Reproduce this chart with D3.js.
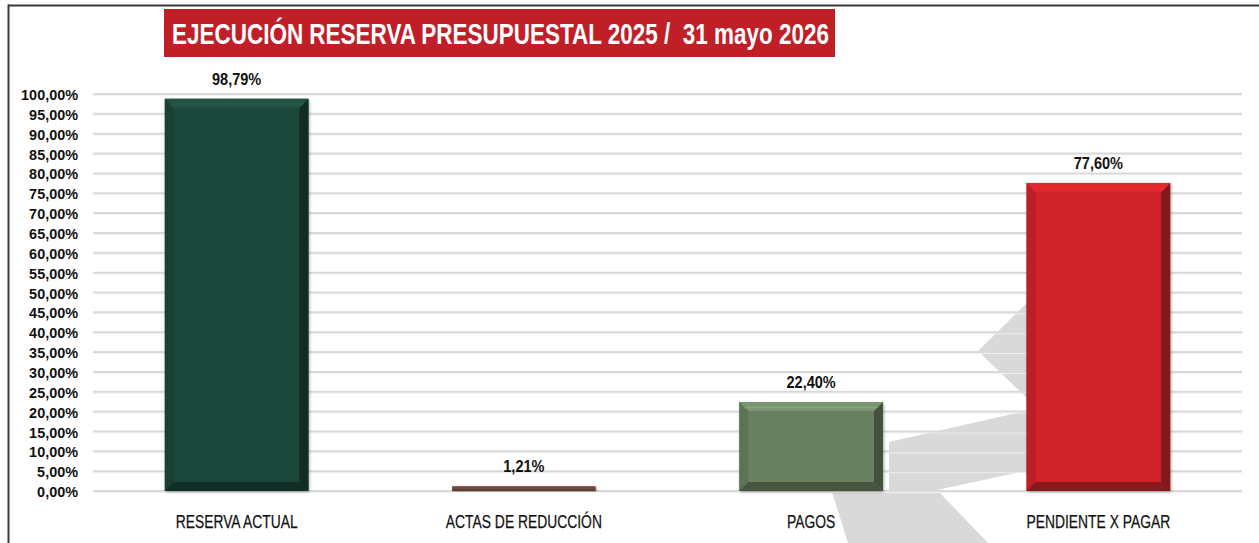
<!DOCTYPE html>
<html><head><meta charset="utf-8">
<script src="https://cdn.jsdelivr.net/npm/d3@7"></script>
<style>
html,body{margin:0;padding:0;background:#fff;}
svg{display:block;}
text{font-family:"Liberation Sans","Arial",sans-serif;fill:#111;}
</style></head>
<body>
<svg id="chart" width="1259" height="543"></svg>
<script>
const categories = ["RESERVA ACTUAL","ACTAS DE REDUCCIÓN","PAGOS","PENDIENTE X PAGAR"];
const values = [98.79, 1.21, 22.40, 77.60];
const valueLabels = ["98,79%","1,21%","22,40%","77,60%"];
const barColors = ["#1d463a","#6e4a3c","#688060","#cf242c"];
const yTicks = d3.range(0, 101, 5);
const titleText = "EJECUCIÓN RESERVA PRESUPUESTAL 2025 /  31 mayo 2026";

const svg = d3.select("#chart");
const W = 1259, H = 543;

const x = d3.scaleBand().domain(categories).range([93, 1242]).paddingInner(0.5).paddingOuter(0.25);
const y = d3.scaleLinear().domain([0, 100]).range([491, 94]);

function condense(sel, k) {
  sel.each(function() {
    const w = this.getComputedTextLength();
    d3.select(this).attr("textLength", w * k).attr("lengthAdjust", "spacingAndGlyphs");
  });
}

const defs = svg.append("defs");
const f = defs.append("filter").attr("id","sh").attr("x","-10%").attr("y","-10%").attr("width","120%").attr("height","120%");
f.append("feDropShadow").attr("dx",1).attr("dy",1).attr("stdDeviation",1.5).attr("flood-color","#000").attr("flood-opacity",0.35);

// background decorative grey arrow shape (watermark)
const deco = svg.append("g").attr("fill","#d9d9d9");
deco.append("path").attr("d","M889,442 L1030,410 L1030,470 L937,490 L988,543 L848,543 L832,492 L889,492 Z");
deco.append("path").attr("d","M1030,300 L978,351 L1030,401 Z");

// gridlines
const grid = svg.append("g");
yTicks.forEach(t => {
  grid.append("line").attr("x1",93).attr("x2",1242).attr("y1",y(t)+1.5).attr("y2",y(t)+1.5)
    .attr("stroke","#f2f2f2").attr("stroke-width",1);
  grid.append("line").attr("x1",93).attr("x2",1242).attr("y1",y(t)).attr("y2",y(t))
    .attr("stroke","#d9d9d9").attr("stroke-width",2);
});

// y axis labels
const yAxis = d3.axisLeft(y).tickValues(yTicks).tickSize(0).tickPadding(0)
  .tickFormat(d => d3.format(".2f")(d).replace(".", ",") + "%");
const ya = svg.append("g").attr("transform","translate(78,0)").call(yAxis);
ya.select(".domain").remove();
ya.selectAll("text").style("font-family",'"Liberation Sans",Arial,sans-serif')
  .style("font-size","15.5px").style("font-weight","bold").attr("fill","#111").attr("dy","0.36em")
  .call(condense, 0.93);

// bars with bevel
const bars = svg.append("g");
categories.forEach((c, i) => {
  const bx = x(c), bw = x.bandwidth(), by = y(values[i]), bh = y(0) - y(values[i]);
  const face = d3.color(barColors[i]);
  const g = bars.append("g");
  g.append("rect").attr("x",bx).attr("y",by).attr("width",bw).attr("height",bh)
    .attr("fill",face.formatHex()).attr("filter","url(#sh)");
  const b = Math.min(9, bh/2 - 0.5);
  if (b > 2) {
    const xl = bx, xr = bx + bw, yt = by, yb = by + bh;
    const top = face.brighter(i === 3 ? 0.2 : 0.45).formatHex();
    const left = face.darker(0.3).formatHex();
    const right = face.darker(1.3).formatHex();
    const bot = face.darker(1.15).formatHex();
    g.append("path").attr("fill",left).attr("d",`M${xl},${yt} L${xl+b},${yt+b} L${xl+b},${yb-b} L${xl},${yb} Z`);
    g.append("path").attr("fill",right).attr("d",`M${xr},${yt} L${xr-b},${yt+b} L${xr-b},${yb-b} L${xr},${yb} Z`);
    g.append("path").attr("fill",top).attr("d",`M${xl},${yt} L${xr},${yt} L${xr-b},${yt+b} L${xl+b},${yt+b} Z`);
    g.append("path").attr("fill",bot).attr("d",`M${xl},${yb} L${xr},${yb} L${xr-b},${yb-b} L${xl+b},${yb-b} Z`);
    g.append("line").attr("x1",xl+b*0.6).attr("x2",xr-b*0.6).attr("y1",yt+b*0.6).attr("y2",yt+b*0.6)
      .attr("stroke",face.brighter(i === 3 ? 0.5 : 0.9).formatHex()).attr("stroke-width",1.5).attr("opacity",0.6);
  } else {
    g.append("rect").attr("x",bx).attr("y",by+bh-1.2).attr("width",bw).attr("height",1.2)
      .attr("fill",face.darker(0.8).formatHex());
  }
  svg.append("text").attr("x",bx+bw/2).attr("y",by-14).attr("text-anchor","middle")
    .style("font-size","16.5px").style("font-weight","bold").text(valueLabels[i])
    .call(condense, 0.88);
});

// category labels
const xAxis = d3.axisBottom(x).tickSize(0).tickPadding(0);
const xa = svg.append("g").attr("transform","translate(0,528)").call(xAxis);
xa.select(".domain").remove();
xa.selectAll("text").attr("dy",0).attr("y",0).style("font-family",'"Liberation Sans",Arial,sans-serif')
  .style("font-size","18px").attr("fill","#111").attr("stroke","#111").attr("stroke-width",0.25)
  .call(condense, 0.77);

// title
svg.append("rect").attr("x",164).attr("y",9).attr("width",671).attr("height",48).attr("fill","#c01f28");
svg.append("text").attr("x",172).attr("y",44).attr("textLength",657).attr("lengthAdjust","spacingAndGlyphs")
  .style("font-size","30px").style("font-weight","bold").attr("fill","#fff").style("fill","#fff")
  .attr("xml:space","preserve").text(titleText);

// frame
svg.append("line").attr("x1",8).attr("x2",W).attr("y1",5.5).attr("y2",5.5).attr("stroke","#3a3a3a").attr("stroke-width",2);
svg.append("line").attr("x1",8.5).attr("x2",8.5).attr("y1",4.5).attr("y2",H).attr("stroke","#3a3a3a").attr("stroke-width",2);
</script>
</body></html>
